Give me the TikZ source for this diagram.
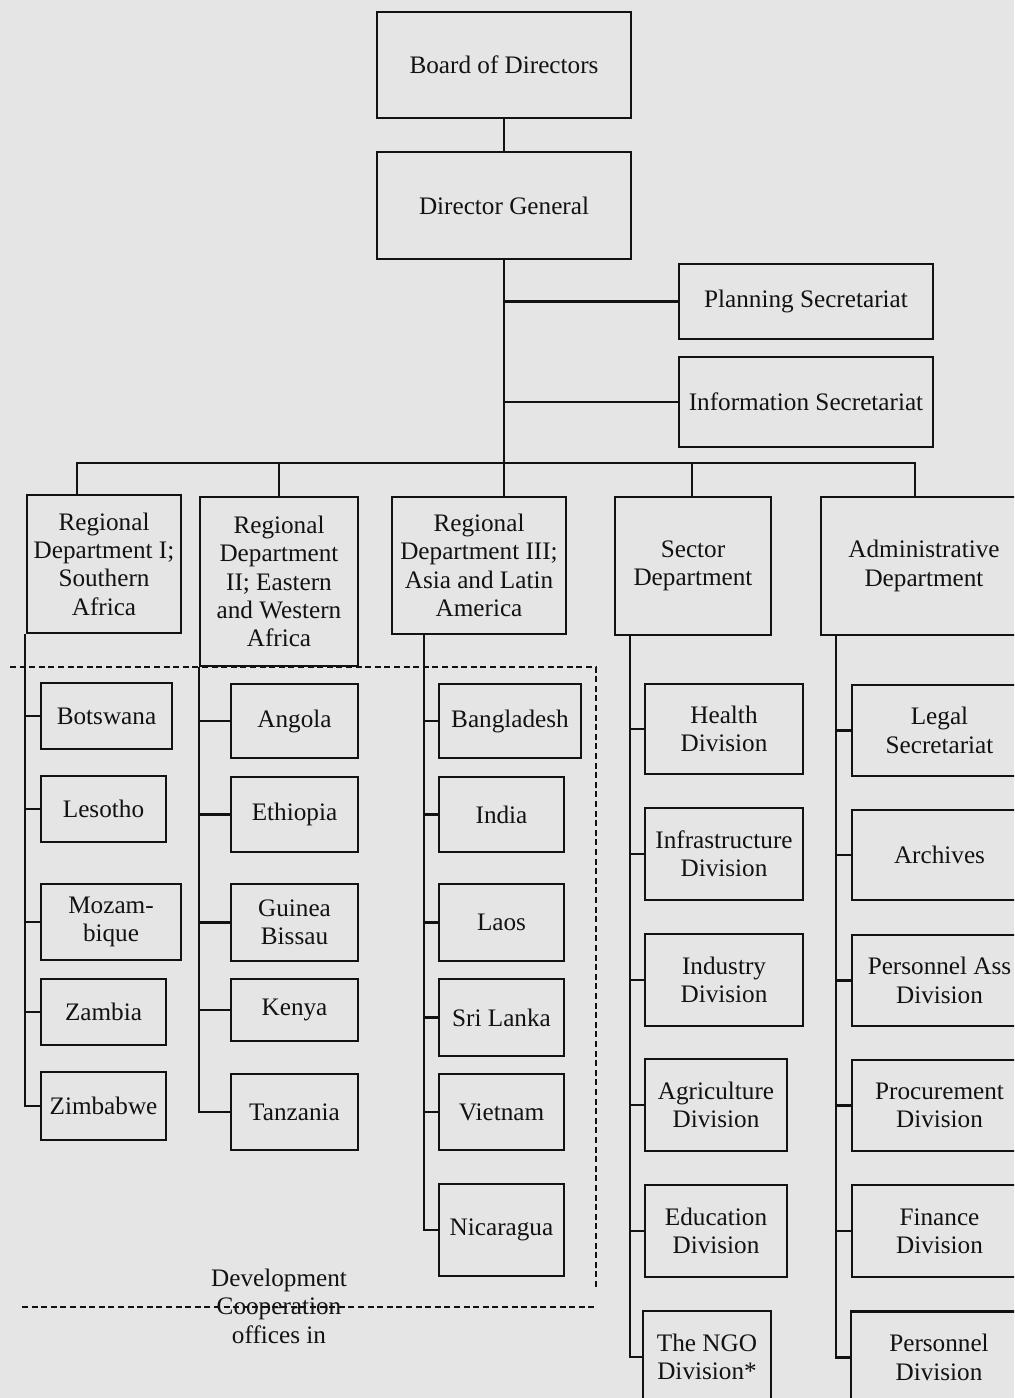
\documentclass[tikz,border=0pt]{standalone}
\usepackage{fontspec}
\setmainfont{Liberation Serif}
\definecolor{paper}{RGB}{229,229,229}
\definecolor{ink}{RGB}{18,18,18}
\tikzset{
  unit/.style={draw=ink, line width=1.25pt, align=center, inner sep=1pt, text=ink},
  wh/.style 2 args={minimum width=#1*0.5pt, minimum height=#2*0.5pt},
  link/.style={draw=ink, line width=1.1pt},
  office/.style={draw=ink, line width=0.55pt, dash pattern=on 3pt off 1.8pt}
}
\begin{document}
\begin{tikzpicture}[x=0.5pt, y=-0.5pt, line join=miter, font=\fontsize{12.6}{14.2}\selectfont]
  \useasboundingbox (0,0) rectangle (1014,1398);
  \fill[paper] (0,0) rectangle (1014,1398);
  \clip (0,0) rectangle (1014,1398);
  % top of the chart
  \node[unit, wh={254}{106}] (board) at (504,65) {Board of Directors};
  \node[unit, wh={254}{107}] (dg) at (504,205.5) {Director General};
  \node[unit, wh={254}{75}] (plan) at (806,301.5) {Planning Secretariat};
  \node[unit, wh={254}{90}] (info) at (806,402) {Information Secretariat};
  % departments
  \node[unit, wh={154}{138}] (regI) at (104,564) {Regional\\Department I;\\Southern\\Africa};
  \node[unit, wh={158}{169}] (regII) at (279,581.5) {Regional\\Department\\II; Eastern\\and Western\\Africa};
  \node[unit, wh={174}{137}] (regIII) at (479,565.5) {Regional\\Department III;\\Asia and Latin\\America};
  \node[unit, wh={156}{138}] (sector) at (693,566) {Sector\\Department};
  \node[unit, wh={206}{138}] (admin) at (924,566) {Administrative\\Department};
  % bus
  \coordinate (b1) at (77,463);
  \coordinate (b5) at (915,463);
  \draw[link] (board) -- (dg);
  \draw[link] (dg.south) -- (dg.south |- regIII.north);
  \draw[link] (dg.south |- plan.west) -- (plan.west);
  \draw[link] (dg.south |- info.west) -- (info.west);
  \draw[link] (b1 |- regI.north) -- (b1) -- (b5) -- (b5 |- admin.north);
  \draw[link] (regII.north |- b1) -- (regII.north);
  \draw[link] (sector.north -| 692,0) -- (b1 -| 692,0);
  % Regional Department I
  \node[unit, wh={131}{66}] (bots) at (106.5,716) {Botswana};
  \node[unit, wh={125}{66}] (leso) at (103.5,809) {Lesotho};
  \node[unit, wh={140}{76}] (moza) at (111,922) {Mozam-\\bique};
  \node[unit, wh={125}{66}] (zamb) at (103.5,1012) {Zambia};
  \node[unit, wh={125}{68}] (zimb) at (103.5,1106) {Zimbabwe};
  \coordinate (s1) at (25,0);
  \draw[link] (s1 |- regI.south) -- (s1 |- zimb.west) -- (zimb.west);
  \foreach \n in {bots,leso,moza,zamb}
    \draw[link] (s1 |- \n.west) -- (\n.west);
  % Regional Department II
  \node[unit, wh={127}{74}] (ango) at (294.5,721) {Angola};
  \node[unit, wh={127}{75}] (ethi) at (294.5,814.5) {Ethiopia};
  \node[unit, wh={127}{77}] (guin) at (294.5,922.5) {Guinea\\Bissau};
  \node[unit, wh={127}{62}] (keny) at (294.5,1010) {Kenya};
  \node[unit, wh={127}{76}] (tanz) at (294.5,1112) {Tanzania};
  \coordinate (s2) at (199,0);
  \draw[link] (s2 |- regII.south) -- (s2 |- tanz.west) -- (tanz.west);
  \foreach \n in {ango,ethi,guin,keny}
    \draw[link] (s2 |- \n.west) -- (\n.west);
  % Regional Department III
  \node[unit, wh={142}{74}] (bang) at (510,721) {Bangladesh};
  \node[unit, wh={125}{75}] (indi) at (501.5,814.5) {India};
  \node[unit, wh={125}{77}] (laos) at (501.5,922.5) {Laos};
  \node[unit, wh={125}{77}] (sril) at (501.5,1017.5) {Sri Lanka};
  \node[unit, wh={125}{76}] (viet) at (501.5,1112) {Vietnam};
  \node[unit, wh={125}{92}] (nica) at (501.5,1230) {Nicaragua};
  \coordinate (s3) at (424,0);
  \draw[link] (s3 |- regIII.south) -- (s3 |- nica.west) -- (nica.west);
  \foreach \n in {bang,indi,laos,sril,viet}
    \draw[link] (s3 |- \n.west) -- (\n.west);
  % Sector Department
  \node[unit, wh={158}{90}] (heal) at (724,729) {Health\\Division};
  \node[unit, wh={158}{92}] (infr) at (724,854) {Infrastructure\\Division};
  \node[unit, wh={158}{92}] (indu) at (724,980) {Industry\\Division};
  \node[unit, wh={142}{92}] (agri) at (716,1105) {Agriculture\\Division};
  \node[unit, wh={142}{92}] (educ) at (716,1231) {Education\\Division};
  \node[unit, wh={128}{92}] (ngo) at (707,1357) {The NGO\\Division*};
  \coordinate (s4) at (630,0);
  \draw[link] (s4 |- sector.south) -- (s4 |- ngo.west) -- (ngo.west);
  \foreach \n in {heal,infr,indu,agri,educ}
    \draw[link] (s4 |- \n.west) -- (\n.west);
  % Administrative Department
  \node[unit, wh={175}{91}] (lega) at (939.5,730.5) {Legal\\Secretariat};
  \node[unit, wh={175}{90}] (arch) at (939.5,855) {Archives};
  \node[unit, wh={175}{91}] (pass) at (939.5,980.5) {Personnel Ass\\Division};
  \node[unit, wh={175}{91}] (proc) at (939.5,1105.5) {Procurement\\Division};
  \node[unit, wh={175}{92}] (fina) at (939.5,1231) {Finance\\Division};
  \node[unit, wh={176}{92}] (pers) at (939,1357.5) {Personnel\\Division};
  \coordinate (s5) at (836,0);
  \draw[link] (s5 |- admin.south) -- (s5 |- pers.west) -- (pers.west);
  \foreach \n in {lega,arch,pass,proc,fina}
    \draw[link] (s5 |- \n.west) -- (\n.west);
  % offices abroad
  \draw[office] (10,667) -- (596,667) -- (596,1290);
  \draw[office] (22,1307) -- (596,1307);
  \node[text=ink, align=center] (offices) at (279,1306) {Development\\Cooperation\\offices in};
\end{tikzpicture}
\end{document}
